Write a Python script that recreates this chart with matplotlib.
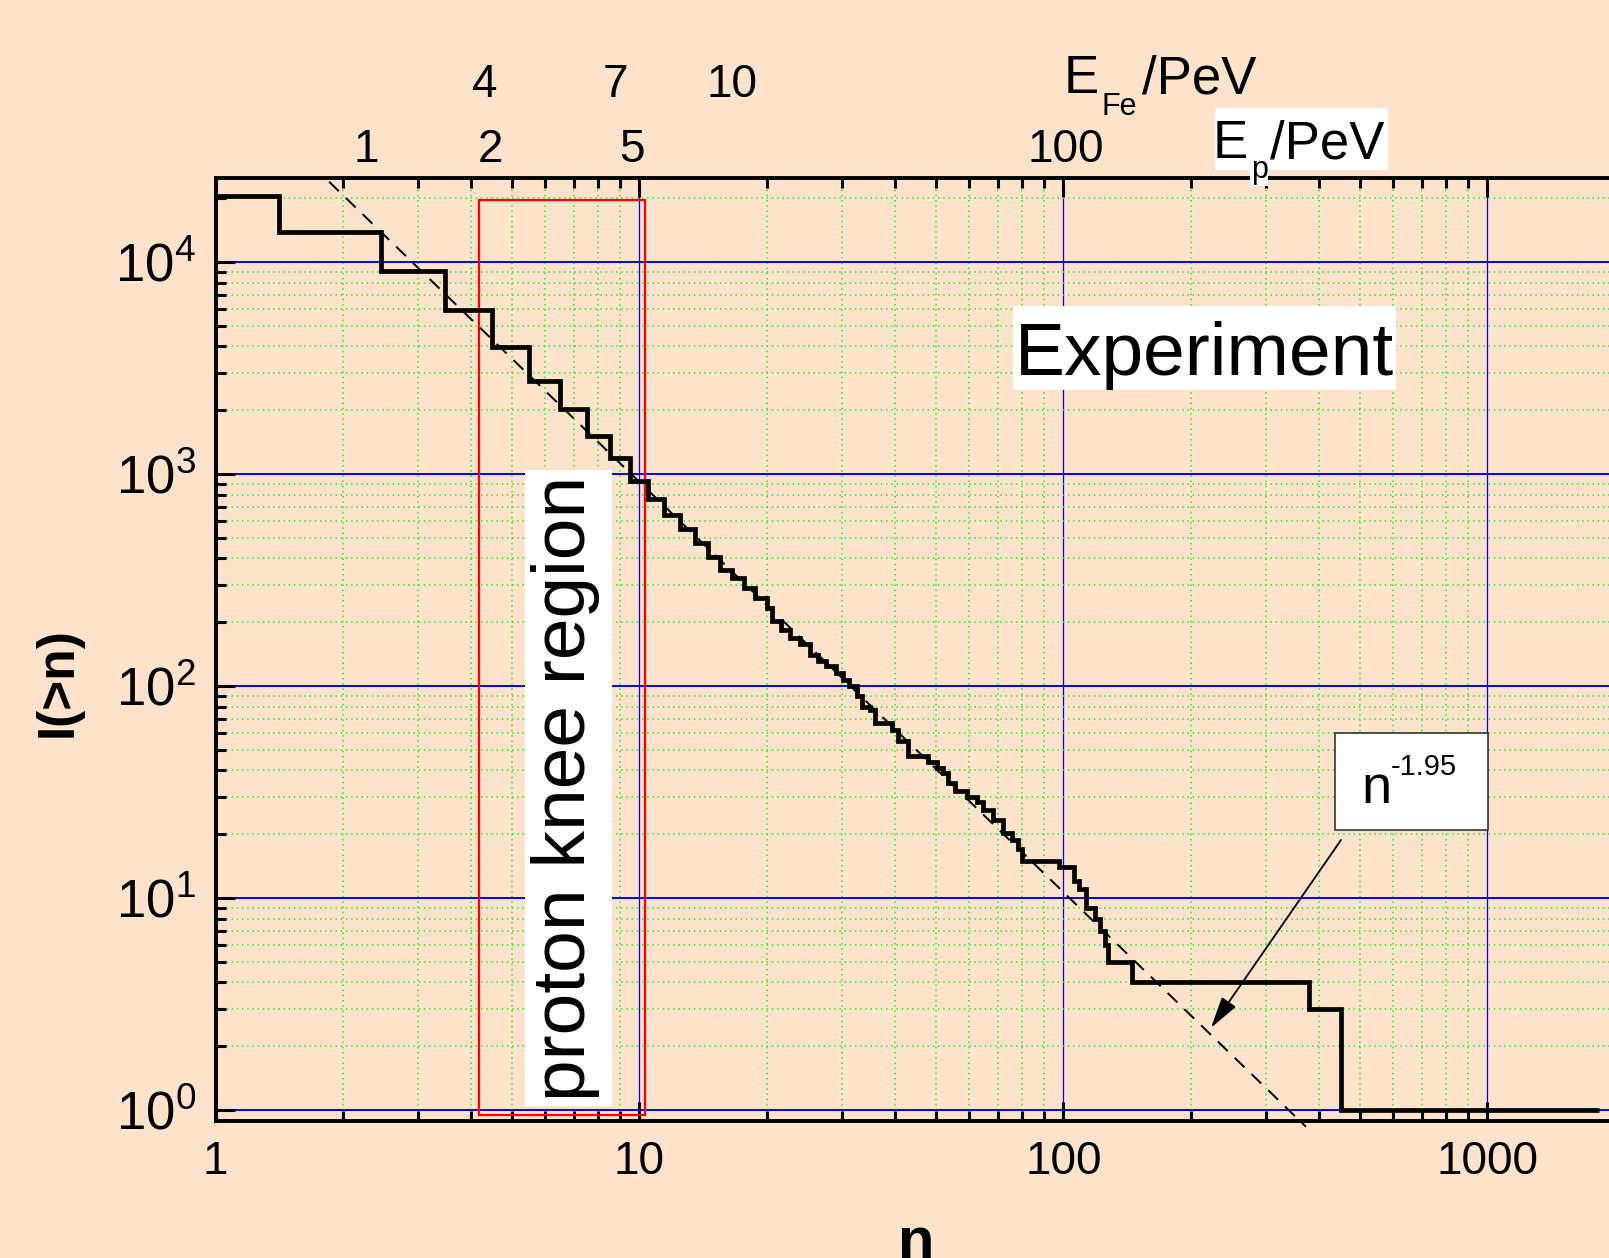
import matplotlib
matplotlib.use("Agg")
import matplotlib.pyplot as plt
from matplotlib.patches import Rectangle
from matplotlib.ticker import LogLocator, FuncFormatter, NullFormatter

plt.rcParams['font.family'] = ['Liberation Sans', 'DejaVu Sans']
plt.rcParams['mathtext.default'] = 'regular'

# integral spectrum I(>n), step edges and values
n_edges = [1.0, 1.41, 2.45, 3.47, 4.48, 5.5, 6.5, 7.5, 8.5, 9.5, 10.45, 11.45, 12.46,
           13.5, 14.5, 15.5, 16.5, 17.6, 18.7, 19.95, 20.5, 21.6, 22.6, 23.9, 25.2,
           26.4, 27.6, 29.0, 30.2, 31.2, 32.5, 33.4, 35.0, 35.9, 39.3, 40.8, 43.0,
           48.0, 50.2, 52.1, 53.5, 55.5, 59.1, 62.4, 64.7, 68.3, 72.1, 75.5, 78.2,
           80.0, 97.5, 106, 109, 113, 118.6, 122, 125, 127.6, 145, 380, 451, 1830]
I_vals = [20500, 13900, 9100, 5950, 3960, 2760, 2020, 1510, 1190, 925, 762, 640,
          550, 475, 408, 353, 323, 290, 260, 233, 202, 184, 169, 157, 140, 131,
          124, 115, 107, 99.5, 89.3, 80, 77, 67, 62, 55, 46.5, 44, 41, 39, 35, 32,
          30, 28.5, 26, 23.4, 20.2, 18.8, 17, 15, 14, 12, 11, 9, 8, 7, 6, 5, 4, 3, 1]

# power law n^-1.95 guide line (end points)
fit_n = [1.853, 373]
fit_I = [23900, 0.834]

# proton knee region box
knee_n = [4.18, 10.33]
knee_I = [0.947, 19500]

# arrow tip for the n^-1.95 label
arrow_n, arrow_I = 222.8, 2.44

# upper energy scales
ep_labels = ['1', '2', '5', '100']
ep_pos = [366, 490.6, 631.5, 1065.8]
efe_labels = ['4', '7', '10']
efe_pos = [484.7, 615.5, 731.8]

W, H = 1609, 1258
bg = '#fde2cc'


def fx(x):
    return x / W


def fy(y):
    return 1 - y / H


fig = plt.figure(figsize=(W / 100, H / 100), dpi=100, facecolor=bg)
ax = fig.add_axes([215.5 / W, fy(1120.7), 1399.6 / W, 942.9 / H])
ax.set_facecolor(bg)
ax.set_xscale('log')
ax.set_yscale('log')
ax.set_xlim(1, 2000)
ax.set_ylim(0.89, 24950)

ax.xaxis.set_major_locator(LogLocator(base=10, numticks=10))
ax.xaxis.set_minor_locator(LogLocator(base=10, subs=range(2, 10), numticks=20))
ax.yaxis.set_major_locator(LogLocator(base=10, numticks=10))
ax.yaxis.set_minor_locator(LogLocator(base=10, subs=range(2, 10), numticks=20))
ax.xaxis.set_major_formatter(FuncFormatter(lambda v, p: '%d' % round(v)))
ax.xaxis.set_minor_formatter(NullFormatter())
ax.yaxis.set_minor_formatter(NullFormatter())

ax.set_axisbelow(True)
ax.grid(which='minor', color='#22ee22', lw=1.1, linestyle=(0, (1, 2.4)))
ax.xaxis.grid(which='major', color='#0000ff', lw=0.9, linestyle='-')
ax.yaxis.grid(which='major', color='#0000ff', lw=1.4, linestyle='-')

ax.tick_params(which='both', direction='in', top=True, right=False, width=2.2,
               color='black')
ax.tick_params(which='major', length=14)
ax.tick_params(which='minor', length=7.5)
ax.tick_params(axis='x', which='major', labelsize=33, pad=14)
ax.tick_params(axis='y', which='major', labelsize=38, pad=14)
for s in ['left', 'bottom', 'top']:
    ax.spines[s].set_linewidth(2.8)
ax.spines['right'].set_visible(False)

# knee box
ax.add_patch(Rectangle((knee_n[0], knee_I[0]), knee_n[1] - knee_n[0], knee_I[1] - knee_I[0],
                       fill=False, ec='#ff0000', lw=1.6, zorder=3))

# power law
fl, = ax.plot(fit_n, fit_I, color='black', lw=1.4, zorder=3, clip_on=False)
fl.set_dashes([7, 5])

# experiment staircase
ax.stairs(I_vals, n_edges, baseline=None, color='black', lw=3.4, zorder=4)

# white label boxes
fig.add_artist(Rectangle((fx(525), fy(1106)), 86.5 / W, 636 / H, transform=fig.transFigure,
                         fc='white', ec='none', zorder=5))
fig.text(fx(566), fy(788), 'proton knee region', rotation=90, fontsize=54,
         ha='center', va='center', zorder=6)

fig.add_artist(Rectangle((fx(1013), fy(390)), 383 / W, 84 / H, transform=fig.transFigure,
                         fc='white', ec='none', zorder=5))
fig.text(fx(1204.5), fy(375), 'Experiment', fontsize=54, ha='center', va='baseline', zorder=6)

fig.add_artist(Rectangle((fx(1335), fy(830)), 153 / W, 97 / H, transform=fig.transFigure,
                         fc='white', ec='#333333', lw=1.2, zorder=5))
fig.text(fx(1361), fy(803), 'n', fontsize=39, ha='left', va='baseline', zorder=6)
fig.text(fx(1391), fy(775), '-1.95', fontsize=21, ha='left', va='baseline', zorder=6)

ax.annotate('', xy=(arrow_n, arrow_I), xycoords='data',
            xytext=(fx(1341), fy(840)), textcoords='figure fraction',
            arrowprops=dict(arrowstyle='-|>,head_length=1.3,head_width=0.35',
                            mutation_scale=15, lw=1.3, color='black',
                            shrinkA=0, shrinkB=0), zorder=6)

# upper scales
for lab, x in zip(ep_labels, ep_pos):
    fig.text(fx(x), fy(162), lab, fontsize=33, ha='center', va='baseline')
for lab, x in zip(efe_labels, efe_pos):
    fig.text(fx(x), fy(97), lab, fontsize=33, ha='center', va='baseline')

fig.text(fx(1064), fy(93.3), 'E', fontsize=38, ha='left', va='baseline')
fig.text(fx(1102), fy(115), 'Fe', fontsize=22, ha='left', va='baseline')
fig.text(fx(1142), fy(93.3), '/PeV', fontsize=38, ha='left', va='baseline')

fig.add_artist(Rectangle((fx(1215), fy(170)), 173 / W, 62 / H, transform=fig.transFigure,
                         fc='white', ec='none', zorder=5))
fig.text(fx(1213), fy(158.3), 'E', fontsize=38, ha='left', va='baseline', zorder=6)
fig.text(fx(1251), fy(178), 'p', fontsize=22, ha='left', va='baseline', zorder=6,
         bbox=dict(fc='white', ec='none', pad=0.5))
fig.text(fx(1270), fy(158.3), '/PeV', fontsize=38, ha='left', va='baseline', zorder=6)

# axis titles (x title is cut at the bottom edge as in the original)
fig.text(fx(58), fy(682.5), 'I(>n)', rotation=90, fontsize=37, fontweight='bold',
         ha='center', va='center')
fig.text(fx(916), fy(1259), 'n', fontsize=43, fontweight='bold', ha='center', va='baseline')

fig.savefig('out.png', dpi=100, facecolor=bg)
